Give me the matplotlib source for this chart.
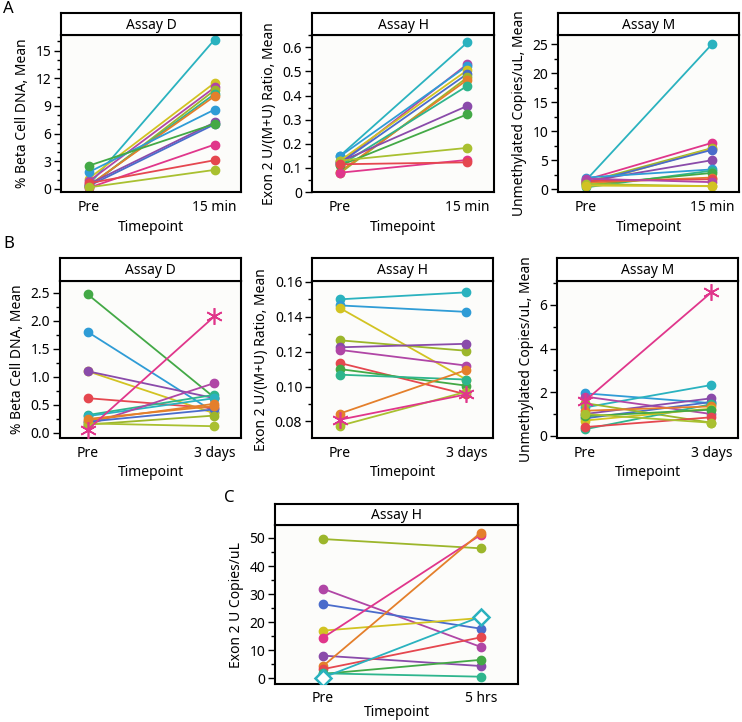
import matplotlib.pyplot as plt
from matplotlib.ticker import MultipleLocator

plt.rcParams['font.family'] = ['Noto Sans', 'DejaVu Sans']

# JMP-like colours
cyan = '#2AB2BF'
skyblue = '#2F9CD6'
blue = '#4A6CCB'
yellow = '#D2C322'
olive = '#9CB62B'
olive2 = '#A9C030'
green = '#43A946'
teal = '#2EB58D'
orange = '#E47F2B'
red = '#E5474F'
pink = '#E0368B'
purple = '#B046A6'
violet = '#8A4BAA'

# Panel A - Assay D
ad_pre = [0.4, 1.1, 0.8, 0.2, 0.3, 0.35, 1.8, 0.5, 0.3, 2.5, 0.1, 0.6, 0.15]
ad_post = [16.2, 11.5, 11.0, 10.7, 10.3, 10.05, 8.6, 7.2, 7.0, 7.05, 4.8, 3.1, 2.05]
ad_colors = [cyan, yellow, purple, olive, teal, orange, skyblue, violet, blue, green, pink, red, olive2]

# Panel A - Assay H
ah_pre = [0.15, 0.12, 0.148, 0.13, 0.12, 0.078, 0.085, 0.11, 0.125, 0.11, 0.13, 0.08, 0.115]
ah_post = [0.62, 0.53, 0.523, 0.505, 0.49, 0.475, 0.465, 0.44, 0.357, 0.322, 0.183, 0.133, 0.123]
ah_colors = [cyan, purple, skyblue, yellow, blue, olive, orange, teal, violet, green, olive2, pink, red]

# Panel A - Assay M
am_pre = [1.5, 1.6, 1.2, 0.8, 1.0, 1.3, 2.0, 0.3, 0.7, 1.1, 1.4, 1.8, 0.9, 0.6]
am_post = [25.1, 8.0, 7.1, 7.0, 6.8, 5.0, 3.4, 3.2, 2.8, 2.0, 1.7, 1.2, 0.5, 0.5]
am_colors = [cyan, pink, olive, yellow, blue, violet, skyblue, teal, green, orange, red, purple, olive2, yellow]

# Panel B - Assay D (last subject drawn with asterisk)
bd_pre = [2.47, 1.80, 1.10, 1.10, 0.62, 0.32, 0.30, 0.15, 0.22, 0.20, 0.15, 0.17, 0.25, 0.06]
bd_post = [0.63, 0.37, 0.35, 0.62, 0.44, 0.68, 0.62, 0.89, 0.52, 0.42, 0.31, 0.12, 0.48, 2.08]
bd_colors = [green, skyblue, yellow, violet, red, teal, cyan, purple, orange, blue, olive, olive2, orange, pink]

# Panel B - Assay H
bh_pre = [0.150, 0.1465, 0.145, 0.1265, 0.1225, 0.121, 0.1135, 0.110, 0.1068, 0.0845, 0.0775, 0.081]
bh_post = [0.154, 0.1428, 0.104, 0.1205, 0.1245, 0.112, 0.0955, 0.1005, 0.104, 0.1095, 0.097, 0.0955]
bh_colors = [cyan, skyblue, yellow, olive, violet, purple, red, green, teal, orange, olive2, pink]

# Panel B - Assay M
bm_pre = [1.95, 1.3, 0.8, 1.8, 1.0, 1.5, 0.3, 1.15, 0.7, 0.9, 0.4, 1.0, 1.6]
bm_post = [1.5, 2.33, 1.55, 1.0, 1.72, 0.6, 1.45, 1.35, 1.25, 1.2, 0.85, 0.6, 6.58]
bm_colors = [skyblue, cyan, blue, purple, violet, olive, teal, orange, yellow, green, red, olive2, pink]

# Panel C - Assay H (last subject drawn with diamond)
c_pre = [49.6, 31.9, 26.4, 17.0, 14.5, 8.1, 4.4, 3.3, 1.6, 1.8, 0.3]
c_post = [46.3, 11.2, 17.7, 21.5, 51.1, 4.4, 51.9, 14.6, 6.6, 0.6, 22.0]
c_colors = [olive, purple, blue, yellow, pink, violet, orange, red, green, teal, cyan]

W, H = 742, 722
fig = plt.figure(figsize=(W / 100, H / 100), dpi=100)


def panel(x0, x1, ytop, yhead, ybot, pre, post, colors, ylim, major, minor,
          ylabel, post_label, title, special=None, xlim=(-0.22, 1.21), fmt=None,
          tpad=6, lpad=3):
    ax = fig.add_axes([x0 / W, 1 - ybot / H, (x1 - x0) / W, (ybot - yhead) / H])
    hd = fig.add_axes([x0 / W, 1 - yhead / H, (x1 - x0) / W, (yhead - ytop) / H])
    hd.set_xticks([])
    hd.set_yticks([])
    for s in hd.spines.values():
        s.set_linewidth(1.5)
    hd.text(0.5, 0.45, title, ha='center', va='center', fontsize=10, transform=hd.transAxes)

    n = len(pre)
    for i in range(n):
        if special is not None and i == n - 1:
            if special == 'star':
                ax.plot([0, 1], [pre[i], post[i]], color=colors[i], lw=1.3,
                        marker=(6, 2, 0), ms=12, mew=1.2, zorder=3)
            else:
                ax.plot([0, 1], [pre[i], post[i]], color=colors[i], lw=1.3,
                        marker='D', ms=8, mfc='white', mew=1.8, zorder=3)
        else:
            ax.plot([0, 1], [pre[i], post[i]], color=colors[i], lw=1.3,
                    marker='o', ms=6, zorder=2)

    ax.set_facecolor('#fcfcfa')
    ax.set_xlim(*xlim)
    ax.set_ylim(*ylim)
    ax.set_xticks([0, 1])
    ax.set_xticklabels(['Pre', post_label])
    ax.yaxis.set_major_locator(MultipleLocator(major))
    ax.yaxis.set_minor_locator(MultipleLocator(minor))
    if fmt:
        ax.yaxis.set_major_formatter(fmt)
    ax.tick_params(axis='x', length=0, pad=tpad, labelsize=10)
    ax.tick_params(axis='y', which='major', length=5, width=1, labelsize=10, pad=2)
    ax.tick_params(axis='y', which='minor', length=3, width=1)
    for s in ax.spines.values():
        s.set_linewidth(1.5)
    ax.set_xlabel('Timepoint', fontsize=10, labelpad=lpad)
    ax.set_ylabel(ylabel, fontsize=10, labelpad=4)
    return ax


# Row A
panel(61, 241, 13, 35, 192, ad_pre, ad_post, ad_colors, (-0.35, 16.7), 3, 1,
      '% Beta Cell DNA, Mean', '15 min', 'Assay D')
panel(312, 494, 13, 35, 192, ah_pre, ah_post, ah_colors, (0, 0.651), 0.1, 0.05,
      'Exon 2 U/(M+U) Ratio, Mean', '15 min', 'Assay H',
      fmt=lambda v, p: '0' if abs(v) < 1e-9 else f'{v:.1f}')
panel(558, 739, 13, 35, 192, am_pre, am_post, am_colors, (-0.5, 26.6), 5, 2.5,
      'Unmethylated Copies/uL, Mean', '15 min', 'Assay M')

# Row B
panel(60, 241, 258, 281, 438, bd_pre, bd_post, bd_colors, (-0.09, 2.71), 0.5, 0.25,
      '% Beta Cell DNA, Mean', '3 days', 'Assay D', special='star',
      fmt=lambda v, p: f'{v:.1f}')
panel(312, 493, 258, 281, 438, bh_pre, bh_post, bh_colors, (0.0705, 0.1605), 0.02, 0.01,
      'Exon 2 U/(M+U) Ratio, Mean', '3 days', 'Assay H', special='star',
      fmt=lambda v, p: f'{v:.2f}')
panel(557, 738, 258, 281, 438, bm_pre, bm_post, bm_colors, (-0.1, 7.1), 2, 1,
      'Unmethylated Copies/uL, Mean', '3 days', 'Assay M', special='star')

# Row C
panel(275, 518, 504, 525, 684, c_pre, c_post, c_colors, (-2.0, 54.6), 10, 5,
      'Exon 2 U Copies/uL', '5 hrs', 'Assay H', special='diamond', xlim=(-0.305, 1.236),
      tpad=5, lpad=-1)

fig.text(3 / W, 1 - 9 / H, 'A', fontsize=12, va='center', ha='left')
fig.text(3 / W, 1 - 244 / H, 'B', fontsize=12, va='center', ha='left')
fig.text(224 / W, 1 - 498 / H, 'C', fontsize=12, va='center', ha='left')

fig.savefig('out.png', dpi=100, facecolor='white')
